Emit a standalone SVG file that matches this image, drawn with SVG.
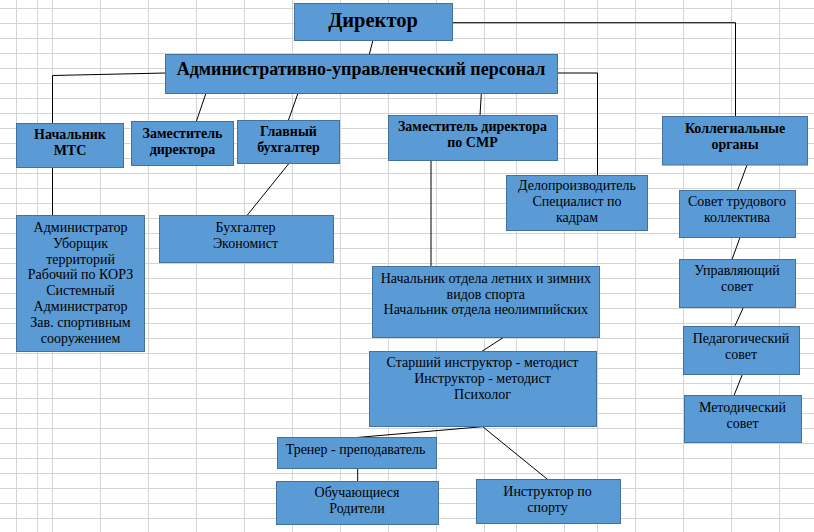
<svg xmlns="http://www.w3.org/2000/svg" width="814" height="532" viewBox="0 0 814 532">
<style>
.grid{stroke:#d4d4d4;stroke-width:1;fill:none}
.box{fill:#5b9bd5;stroke:#41719c;stroke-width:1}
.c{stroke:#000;stroke-width:1;fill:none}
text{font-family:"Liberation Serif","Times New Roman",serif;font-size:14px;fill:#000;text-anchor:middle}
.b{font-weight:bold}
</style>
<rect x="0" y="0" width="814" height="532" fill="#fff"/>
<path class="grid" d="M16.5,0V532M37.5,0V532M52.5,0V532M100.5,0V532M148.5,0V532M196.5,0V532M244.5,0V532M292.5,0V532M340.5,0V532M388.5,0V532M436.5,0V532M484.5,0V532M516.5,0V532M564.5,0V532M597.5,0V532M635.5,0V532M683.5,0V532M731.5,0V532M779.5,0V532
M0,8.5H814M0,23.5H814M0,38.5H814M0,53.5H814M0,68.5H814M0,83.5H814M0,98.5H814M0,113.5H814M0,128.5H814M0,143.5H814M0,158.5H814M0,173.5H814M0,188.5H814M0,203.5H814M0,218.5H814M0,233.5H814M0,248.5H814M0,263.5H814M0,278.5H814M0,293.5H814M0,308.5H814M0,323.5H814M0,338.5H814M0,353.5H814M0,368.5H814M0,383.5H814M0,398.5H814M0,413.5H814M0,428.5H814M0,443.5H814M0,458.5H814M0,473.5H814M0,488.5H814M0,503.5H814M0,518.5H814"/>
<g id="connectors">
<path class="c" d="M453,22.7H735.5V116.5"/>
<path class="c" d="M372.7,41L369.3,54.5"/>
<path class="c" d="M165.5,73L52.5,75.5V123.5"/>
<path class="c" d="M205.7,94L196.3,121.5"/>
<path class="c" d="M297.7,94L288.3,120.5"/>
<path class="c" d="M481.3,94L480,115.5"/>
<path class="c" d="M557.5,73H597.5V175.5"/>
<path class="c" d="M52.5,168V215.5"/>
<path class="c" d="M288.5,164L247,215.5"/>
<path class="c" d="M431,160.5V266.5"/>
<path class="c" d="M747,165L737.5,190.5"/>
<path class="c" d="M740,237.5L732,259.5"/>
<path class="c" d="M743.3,307.5L734.7,326.5"/>
<path class="c" d="M742.3,374.5L734,395.5"/>
<path class="c" d="M503.3,337.5L481.7,351.5"/>
<path class="c" d="M482.7,426.7L356.7,437.5"/>
<path class="c" d="M482.7,426.7L547.7,479.5"/>
<path class="c" d="M357.7,468.5V481.5"/>
</g>
<g id="director"><rect class="box" x="294.5" y="3.5" width="158" height="37"/><text class="b" x="373" y="27" style="font-size:20.5px">Директор</text></g>
<g id="aup"><rect class="box" x="165.5" y="54.5" width="392" height="39"/><text class="b" x="361" y="74.5" style="font-size:18px">Административно-управленческий персонал</text></g>
<g id="mts"><rect class="box" x="16.5" y="123.5" width="107" height="44"/><text class="b" x="70" y="139.3">Начальник</text><text class="b" x="70" y="155.3">МТС</text></g>
<g id="zam"><rect class="box" x="131.5" y="121.5" width="102" height="44"/><text class="b" x="182.5" y="138">Заместитель</text><text class="b" x="182.5" y="154">директора</text></g>
<g id="glavbuh"><rect class="box" x="237.5" y="120.5" width="102" height="43"/><text class="b" x="288.5" y="136">Главный</text><text class="b" x="288.5" y="152">бухгалтер</text></g>
<g id="zamsmr"><rect class="box" x="388.5" y="115.5" width="169" height="45"/><text class="b" x="472.5" y="131">Заместитель директора</text><text class="b" x="472.5" y="147">по СМР</text></g>
<g id="koll"><rect class="box" x="662.5" y="116.5" width="145" height="48.5"/><text class="b" x="735" y="132.5">Коллегиальные</text><text class="b" x="735" y="148.5">органы</text></g>
<g id="admin"><rect class="box" x="16.5" y="215.5" width="128" height="136"/>
<text x="80.5" y="232">Администратор</text><text x="80.5" y="248">Уборщик</text><text x="80.5" y="263.5">территорий</text><text x="80.5" y="279.3">Рабочий по КОРЗ</text><text x="80.5" y="295.2">Системный</text><text x="80.5" y="311">Администратор</text><text x="80.5" y="327">Зав. спортивным</text><text x="80.5" y="343">сооружением</text></g>
<g id="buh"><rect class="box" x="159.5" y="215.5" width="174" height="47"/><text x="245.5" y="232">Бухгалтер</text><text x="245.5" y="247.5">Экономист</text></g>
<g id="delo"><rect class="box" x="506.5" y="175.5" width="141" height="55"/><text x="577" y="190.3">Делопроизводитель</text><text x="577" y="206.2">Специалист по</text><text x="577" y="222">кадрам</text></g>
<g id="sovtrud"><rect class="box" x="679.5" y="190.5" width="116" height="47"/><text x="737" y="206">Совет трудового</text><text x="737" y="222">коллектива</text></g>
<g id="upr"><rect class="box" x="679.5" y="259.5" width="116" height="48"/><text x="737" y="275.3">Управляющий</text><text x="737" y="291.2">совет</text></g>
<g id="ped"><rect class="box" x="683.5" y="326.5" width="116" height="48"/><text x="741" y="342.8">Педагогический</text><text x="741" y="358.5">совет</text></g>
<g id="metod"><rect class="box" x="684.5" y="395.5" width="117" height="47"/><text x="742.5" y="411.8">Методический</text><text x="742.5" y="427.8">совет</text></g>
<g id="nachotd"><rect class="box" x="372.5" y="266.5" width="227" height="71"/><text x="485.8" y="282.8">Начальник отдела летних и зимних</text><text x="485.8" y="298.5">видов спорта</text><text x="485.8" y="314.2">Начальник отдела неолимпийских</text></g>
<g id="starsh"><rect class="box" x="369.5" y="351.5" width="227" height="75"/><text x="482.5" y="366.8">Старший инструктор - методист</text><text x="482.5" y="382.7">Инструктор - методист</text><text x="482.5" y="398.5">Психолог</text></g>
<g id="trener"><rect class="box" x="277.5" y="437.5" width="159" height="31"/><text x="355.5" y="453.5">Тренер - преподаватель</text></g>
<g id="obuch"><rect class="box" x="276.5" y="481.5" width="162" height="43"/><text x="357" y="497">Обучающиеся</text><text x="357" y="512.8">Родители</text></g>
<g id="instr"><rect class="box" x="476.5" y="479.5" width="144" height="44"/><text x="547.5" y="495.5">Инструктор по</text><text x="547.5" y="511.8">спорту</text></g>
</svg>
